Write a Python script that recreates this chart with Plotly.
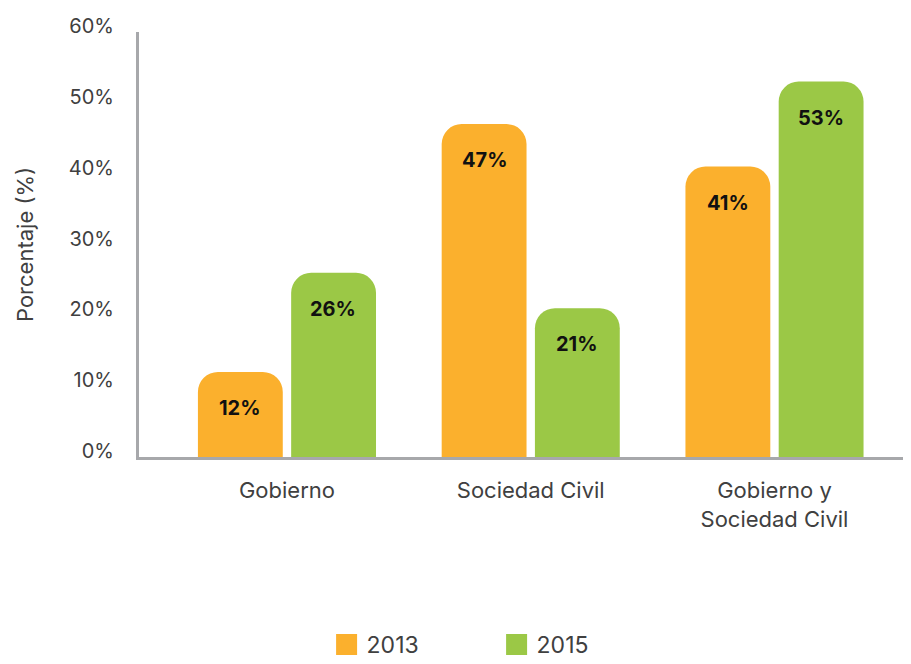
import plotly.graph_objects as go

categories = ["Gobierno", "Sociedad Civil", "Gobierno y<br>Sociedad Civil"]
series_names = ["2013", "2015"]
values_2013 = [12, 47, 41]
values_2015 = [26, 21, 53]
y_ticks = [0, 10, 20, 30, 40, 50, 60]
y_tick_labels = ["0%", "10%", "20%", "30%", "40%", "50%", "60%"]

colors = ["#FBB02D", "#9BC846"]
text_color = "#404040"
axis_color = "#A7A8AB"
FONT = "Inter"

fig = go.Figure()
for name, vals, col in zip(series_names, [values_2013, values_2015], colors):
    fig.add_trace(go.Bar(
        x=categories, y=vals, name=name, marker=dict(color=col, line=dict(width=0)),
        showlegend=False, hoverinfo="skip",
    ))
    # legend proxy
    fig.add_trace(go.Scatter(
        x=[None], y=[None], mode="markers", name=name,
        marker=dict(symbol="square", size=16, color=col, line=dict(color=col, width=5)),
    ))

# value labels
group_w = 243 * (1 - 0.235)
slot = group_w / 2
for i, (name, vals) in enumerate(zip(series_names, [values_2013, values_2015])):
    shift = (i - 0.5) * slot
    for c, v in zip(categories, vals):
        fig.add_annotation(
            x=c, y=v, text=f"<b>{v}%</b>", showarrow=False,
            xshift=shift, yshift=-36, yanchor="middle",
            font=dict(family=FONT, size=20, color="#111111"),
        )

# page body has an 8px margin, so the figure is sized/offset to compensate
fig.update_layout(
    width=903, height=656,
    margin=dict(l=131, r=0, t=24, b=207, autoexpand=False),
    paper_bgcolor="white", plot_bgcolor="white",
    barmode="group", bargap=0.235, bargroupgap=0.09, barcornerradius=20,
    font=dict(family=FONT, size=20, color=text_color),
    legend=dict(
        orientation="h", x=0.243, xanchor="left", y=-0.441, yanchor="middle",
        font=dict(family=FONT, size=23, color=text_color),
        entrywidth=125, entrywidthmode="pixels", itemclick=False,
    ),
    xaxis=dict(
        range=[-0.607, 2.56], showline=True, linecolor=axis_color, linewidth=3,
        showgrid=False, zeroline=False, ticks="", ticklabelstandoff=12,
        tickfont=dict(family=FONT, size=22, color=text_color), automargin=False,
    ),
    yaxis=dict(
        range=[0, 60], tickvals=y_ticks, ticktext=y_tick_labels,
        showline=True, linecolor=axis_color, linewidth=3,
        showgrid=False, zeroline=False, ticks="", ticklabelstandoff=18,
        ticklabelshift=-6, automargin=False,
        tickfont=dict(family=FONT, size=20, color=text_color),
        title=dict(text="Porcentaje (%)", standoff=30,
                   font=dict(family=FONT, size=22, color=text_color)),
    ),
)

fig.write_html("out.html")
